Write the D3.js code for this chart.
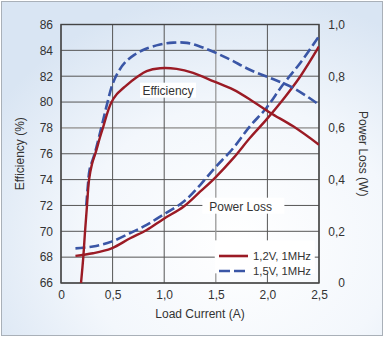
<!DOCTYPE html>
<html><head><meta charset="utf-8">
<script src="https://cdn.jsdelivr.net/npm/d3@7"></script>
<style>body{margin:0;background:#fff}svg{display:block}text{font-family:"Liberation Sans",Arial,sans-serif;fill:#333}</style>
</head><body>
<script>
// Data
const xTicks = [0, 0.5, 1.0, 1.5, 2.0, 2.5];
const xTickLabels = ["0", "0,5", "1,0", "1,5", "2,0", "2,5"];
const leftTicks = [66, 68, 70, 72, 74, 76, 78, 80, 82, 84, 86];
const rightTicks = [0, 0.2, 0.4, 0.6, 0.8, 1.0];
const rightTickLabels = ["0", "0,2", "0,4", "0,6", "0,8", "1,0"];
const seriesNames = ["1,2V, 1MHz", "1,5V, 1MHz"];

const effRedX = [0.194, 0.216, 0.233, 0.252, 0.272, 0.30, 0.34, 0.375, 0.41, 0.455, 0.49, 0.54, 0.62, 0.74, 0.83, 0.96, 1.12, 1.28, 1.48, 1.67, 1.86, 2.03, 2.25, 2.5];
const effRedY = [66, 68, 70, 72, 74, 75.2, 76.2, 77.2, 78.1, 79.3, 80.0, 80.6, 81.2, 81.95, 82.4, 82.62, 82.57, 82.26, 81.6, 80.96, 80.05, 79.16, 78.12, 76.7];
const effBlueX = [0.245, 0.26, 0.278, 0.326, 0.39, 0.445, 0.50, 0.56, 0.625, 0.71, 0.80, 0.96, 1.09, 1.22, 1.38, 1.61, 1.83, 2.03, 2.25, 2.5];
const effBlueY = [72, 73.5, 74.8, 76, 78, 79.8, 81.4, 82.4, 83.1, 83.65, 84.05, 84.45, 84.6, 84.58, 84.2, 83.4, 82.5, 81.85, 81.1, 79.8];
const plRedX = [0.14, 0.31, 0.49, 0.67, 0.83, 0.99, 1.19, 1.35, 1.49, 1.67, 1.83, 1.99, 2.15, 2.32, 2.5];
const plRedY = [0.105, 0.115, 0.134, 0.173, 0.205, 0.247, 0.296, 0.354, 0.406, 0.483, 0.561, 0.632, 0.709, 0.80, 0.915];
const plBlueX = [0.14, 0.31, 0.49, 0.67, 0.83, 0.99, 1.19, 1.35, 1.49, 1.67, 1.83, 1.99, 2.15, 2.32, 2.5];
const plBlueY = [0.134, 0.141, 0.16, 0.193, 0.225, 0.264, 0.315, 0.38, 0.445, 0.522, 0.606, 0.677, 0.767, 0.852, 0.955];

const RED = "#9b1b25", BLUE = "#3a56a6";
const W = 384, H = 337;
const L = 61, R = 319, T = 24.5, B = 283;

const svg = d3.select("body").append("svg").attr("width", W).attr("height", H);
const defs = svg.append("defs");
const rg = defs.append("radialGradient").attr("id", "bg").attr("cx", "62%").attr("cy", "72%").attr("r", "75%");
rg.append("stop").attr("offset", "0%").attr("stop-color", "#ffffff");
rg.append("stop").attr("offset", "55%").attr("stop-color", "#f3f7fc");
rg.append("stop").attr("offset", "100%").attr("stop-color", "#d9e5f3");
defs.append("clipPath").attr("id", "clip").append("rect").attr("x", L).attr("y", T).attr("width", R - L).attr("height", B - T);

svg.append("rect").attr("x", 1.5).attr("y", 1.5).attr("width", W - 3).attr("height", H - 3)
  .attr("fill", "url(#bg)").attr("stroke", "#a9b0b8").attr("stroke-width", 1);

const x = d3.scaleLinear().domain([0, 2.5]).range([L, R]);
const yL = d3.scaleLinear().domain([66, 86]).range([B, T]);
const yR = d3.scaleLinear().domain([0, 1]).range([B, T]);

// grid
const g = svg.append("g");
leftTicks.forEach(v => {
  g.append("line").attr("x1", L).attr("x2", R).attr("y1", yL(v)).attr("y2", yL(v))
    .attr("stroke", v === 78 ? "#a8a8a8" : "#555").attr("stroke-width", v === 78 ? 1.6 : 1);
});
xTicks.forEach(v => {
  g.append("line").attr("x1", x(v)).attr("x2", x(v)).attr("y1", T).attr("y2", B)
    .attr("stroke", v === 1.5 ? "#999" : "#555").attr("stroke-width", v === 1.5 ? 1.3 : 1);
});

// label backgrounds
g.append("rect").attr("x", 140).attr("y", yL(81.5)).attr("width", 56).attr("height", 15).attr("fill", "#fff");
g.append("rect").attr("x", x(1.37)).attr("y", yL(72.6)).attr("width", 82).attr("height", 16).attr("fill", "#fff");
g.append("rect").attr("x", x(1.49)).attr("y", yL(69.3)).attr("width", 100).attr("height", 33).attr("fill", "#fff");

// frame
svg.append("rect").attr("x", L).attr("y", T).attr("width", R - L).attr("height", B - T)
  .attr("fill", "none").attr("stroke", "#444").attr("stroke-width", 1.4);

// axes (no tick marks)
const axL = d3.axisLeft(yL).tickValues(leftTicks).tickSize(0).tickPadding(8).tickFormat(d3.format("d"));
const axR = d3.axisRight(yR).tickValues(rightTicks).tickSize(0).tickPadding(26).tickFormat((d, i) => rightTickLabels[i]);
const axB = d3.axisBottom(x).tickValues(xTicks).tickSize(0).tickPadding(7).tickFormat((d, i) => xTickLabels[i]);
function styleAxis(sel) { sel.select(".domain").remove(); sel.selectAll("text").attr("font-size", 12).attr("fill", "#333").attr("font-family", "Liberation Sans, Arial, sans-serif"); }
svg.append("g").attr("transform", `translate(${L},0)`).call(axL).call(styleAxis);
svg.append("g").attr("transform", `translate(${R},0)`).call(axR).call(styleAxis).selectAll("text").attr("text-anchor", "end");
svg.append("g").attr("transform", `translate(0,${B})`).call(axB).call(styleAxis);

// titles
svg.append("text").attr("transform", `translate(24,${(T + B) / 2}) rotate(-90)`).attr("text-anchor", "middle").attr("font-size", 12).text("Efficiency (%)");
svg.append("text").attr("transform", `translate(359,${(T + B) / 2}) rotate(90)`).attr("text-anchor", "middle").attr("font-size", 12).text("Power Loss (W)");
svg.append("text").attr("x", 200).attr("y", 318).attr("text-anchor", "middle").attr("font-size", 12).text("Load Current (A)");

// curves
const plot = svg.append("g").attr("clip-path", "url(#clip)");
const mk = (xs, ys, ys2) => xs.map((v, i) => [x(v), ys2(ys[i])]);
const line = d3.line().curve(d3.curveCatmullRom.alpha(0.5));
plot.append("path").attr("d", line(mk(plBlueX, plBlueY, yR))).attr("fill", "none").attr("stroke", BLUE).attr("stroke-width", 2.6).attr("stroke-dasharray", "10,4");
plot.append("path").attr("d", line(mk(plRedX, plRedY, yR))).attr("fill", "none").attr("stroke", RED).attr("stroke-width", 2.4);
plot.append("path").attr("d", line(mk(effBlueX, effBlueY, yL))).attr("fill", "none").attr("stroke", BLUE).attr("stroke-width", 2.6).attr("stroke-dasharray", "10,4");
plot.append("path").attr("d", line(mk(effRedX, effRedY, yL))).attr("fill", "none").attr("stroke", RED).attr("stroke-width", 2.4);

// annotations
svg.append("text").attr("x", 168).attr("y", yL(80.55)).attr("text-anchor", "middle").attr("font-size", 12).text("Efficiency");
svg.append("text").attr("x", x(1.74)).attr("y", yL(71.6)).attr("text-anchor", "middle").attr("font-size", 12).text("Power Loss");

// legend
const lg = svg.append("g");
[0, 1].forEach(i => {
  const yy = 256 + i * 15;
  lg.append("line").attr("x1", 219).attr("x2", 248).attr("y1", yy).attr("y2", yy)
    .attr("stroke", i ? BLUE : RED).attr("stroke-width", 2.6).attr("stroke-dasharray", i ? "11,4" : null);
  lg.append("text").attr("x", 253).attr("y", yy + 4).attr("font-size", 11.3).text(seriesNames[i]);
});
</script>
</body></html>
